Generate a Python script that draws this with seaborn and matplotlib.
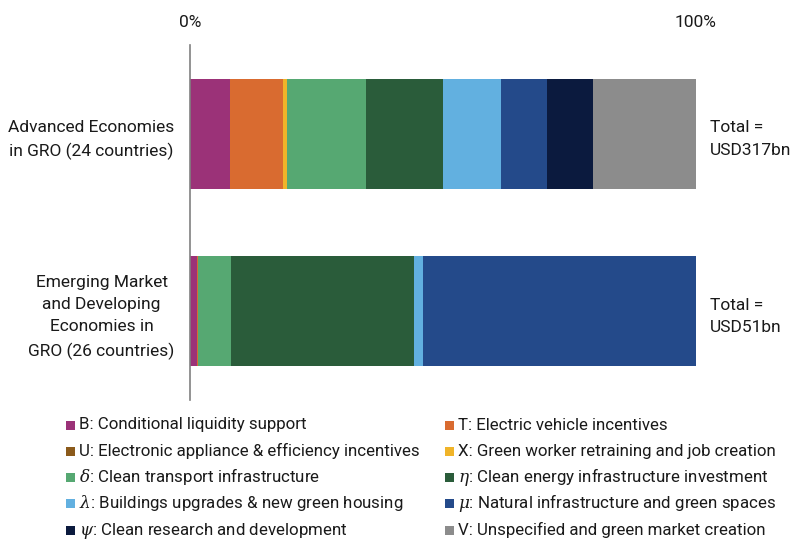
import matplotlib
matplotlib.use("Agg")
import matplotlib.pyplot as plt
import pandas as pd
import seaborn as sns
from matplotlib.patches import Rectangle

# shares of green recovery spending (% of total) per archetype
regions = ["Advanced Economies\nin GRO (24 countries)",
           "Emerging Market\nand Developing\nEconomies in\nGRO (26 countries)"]
totals = ["Total =\nUSD317bn", "Total =\nUSD51bn"]

categories = ["B: Conditional liquidity support",
              "T: Electric vehicle incentives",
              "U: Electronic appliance & efficiency incentives",
              "X: Green worker retraining and job creation",
              r"$\delta$: Clean transport infrastructure",
              r"$\eta$: Clean energy infrastructure investment",
              r"$\lambda$: Buildings upgrades & new green housing",
              r"$\mu$: Natural infrastructure and green spaces",
              r"$\psi$: Clean research and development",
              "V: Unspecified and green market creation"]

advanced = [8.0, 10.4, 0.0, 0.8, 15.7, 15.1, 11.5, 9.1, 9.1, 20.3]
emerging = [1.3, 0.3, 0.0, 0.0, 6.6, 36.1, 1.7, 54.0, 0.0, 0.0]

colors = ["#9B3278", "#D96B30", "#8B5A1B", "#F0B429", "#56A872",
          "#2A5C3A", "#62B0E0", "#244A8A", "#0B1A3E", "#8C8C8C"]

sns.set_theme(style="white")
plt.rcParams['font.family'] = ['Roboto', 'DejaVu Sans']
plt.rcParams['mathtext.fontset'] = 'custom'
plt.rcParams['mathtext.it'] = 'DejaVu Serif:italic'
txt = '#1a1a1a'

df = pd.DataFrame({'region': regions * len(categories),
                   'category': [c for c in categories for _ in regions],
                   'share': [v for pair in zip(advanced, emerging) for v in pair]})
df['cum'] = df.groupby('region', sort=False)['share'].cumsum()

W, H = 790, 541
fig = plt.figure(figsize=(W / 100, H / 100), dpi=100)
ax = fig.add_axes([0.2405, 0.2606, 0.64, 0.6562])

# stacked bars: draw cumulative totals from the last segment backwards
for cat, col in reversed(list(zip(categories, colors))):
    sub = df[df['category'] == cat]
    sns.barplot(data=sub, x='cum', y='region', order=regions, color=col,
                saturation=1, width=0.62, linewidth=0, ax=ax)

ax.set_xlim(0, 100)
ax.set_ylim(1.5, -0.5)
ax.xaxis.tick_top()
ax.set_xticks([0, 100])
ax.set_xticklabels(['0%', '100%'])
ax.tick_params(axis='x', length=0, pad=11, labelsize=12.5, labelcolor=txt)
ax.tick_params(axis='y', length=0, pad=11, labelsize=12.5, labelcolor=txt)
for lab in ax.get_yticklabels():
    lab.set_multialignment('center')
    lab.set_linespacing(1.6)
ax.set_xlabel('')
ax.set_ylabel('')
for s in ['top', 'right', 'bottom']:
    ax.spines[s].set_visible(False)
ax.spines['left'].set_color('#808080')
ax.spines['left'].set_linewidth(1.2)

for i, t in enumerate(totals):
    ax.text(102.8, i + 0.03, t, va='center', ha='left', fontsize=12.5, color=txt,
            linespacing=1.6)

# legend: two columns filled row by row, evenly spaced rows
col_x = [66, 445]
for k, (lab, col) in enumerate(zip(categories, colors)):
    r, c = divmod(k, 2)
    yc = 425 + 26.3 * r
    fig.patches.append(Rectangle((col_x[c] / W, 1 - (yc + 4.5) / H), 9 / W, 9 / H,
                                 transform=fig.transFigure, facecolor=col,
                                 edgecolor='none'))
    fig.text((col_x[c] + 13) / W, 1 - (yc + 4.5) / H, lab, ha='left', va='baseline',
             fontsize=12.2, color=txt)

fig.savefig('out.png', dpi=100)
